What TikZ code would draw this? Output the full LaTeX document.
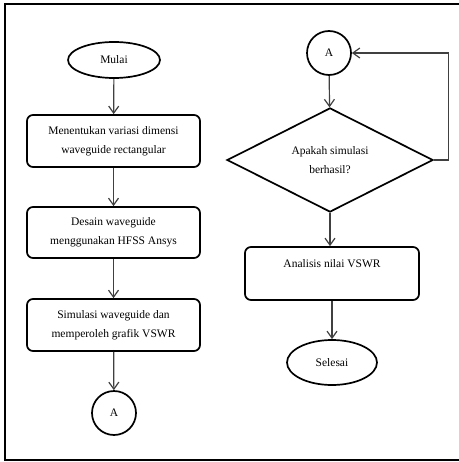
\documentclass[tikz,border=0pt]{standalone}
\usepackage{fontspec}
\setmainfont{Liberation Serif}
\usetikzlibrary{shapes.geometric,arrows.meta}

\begin{document}
\begin{tikzpicture}[x=1pt, y=-1pt,
        font=\fontsize{11.5}{19}\selectfont,
        terminal/.style={ellipse, draw, line width=1.7pt, inner sep=0pt},
        prosesbox/.style={rectangle, rounded corners=6pt, draw, line width=1.7pt,
            minimum width=173pt, align=center},
        konektor/.style={circle, draw, line width=1.7pt, minimum size=44pt, inner sep=0pt},
        keputusan/.style={diamond, draw, line width=1.7pt, minimum width=206pt,
            minimum height=94pt, inner sep=0pt, align=center},
        panah/.style={-{Straight Barb[length=7pt,width=10pt]}, line width=1.2pt, draw=black!75}]
    \useasboundingbox (0,0) rectangle (458,462);

    % bingkai
    \draw[line width=2.2pt] (462,4) -- (5,4) -- (5,460) -- (462,460);

    % kolom kiri
    \node[terminal, minimum width=92pt, minimum height=36pt] (mulai) at (114,60) {Mulai};
    \node[prosesbox, minimum height=52pt] (variasi) at (113.5,141)
        {Menentukan variasi dimensi\\waveguide rectangular};
    \node[prosesbox, minimum height=51pt] (desain) at (113.5,232.5)
        {Desain waveguide\\menggunakan HFSS Ansys};
    \node[prosesbox, minimum height=52pt] (simulasi) at (113.5,325)
        {Simulasi waveguide dan\\memperoleh grafik VSWR};
    \node[konektor] (a1) at (114,413) {A};

    % kolom kanan
    \node[konektor] (a2) at (329,53) {A};
    \node[keputusan] (cek) at (330,160) {Apakah simulasi\\berhasil?};
    \node[prosesbox, minimum width=174pt, minimum height=53pt] (analisis) at (332,273.5)
        {Analisis nilai VSWR\\\mbox{}};
    \node[terminal, minimum width=90pt, minimum height=45pt] (selesai) at (332,362.5) {Selesai};

    % alur
    \draw[panah] (mulai) -- (variasi);
    \draw[panah] (variasi) -- (desain);
    \draw[panah] (desain) -- (simulasi);
    \draw[panah] (simulasi) -- (a1);
    \draw[panah] (a2) -- (cek);
    \draw[panah] (cek) -- (analisis.north -| cek.south);
    \draw[panah] (analisis.south -| selesai.north) -- (selesai);
    \draw[panah] (cek.east) -- ++(15,0) |- (a2.east);
\end{tikzpicture}
\end{document}
